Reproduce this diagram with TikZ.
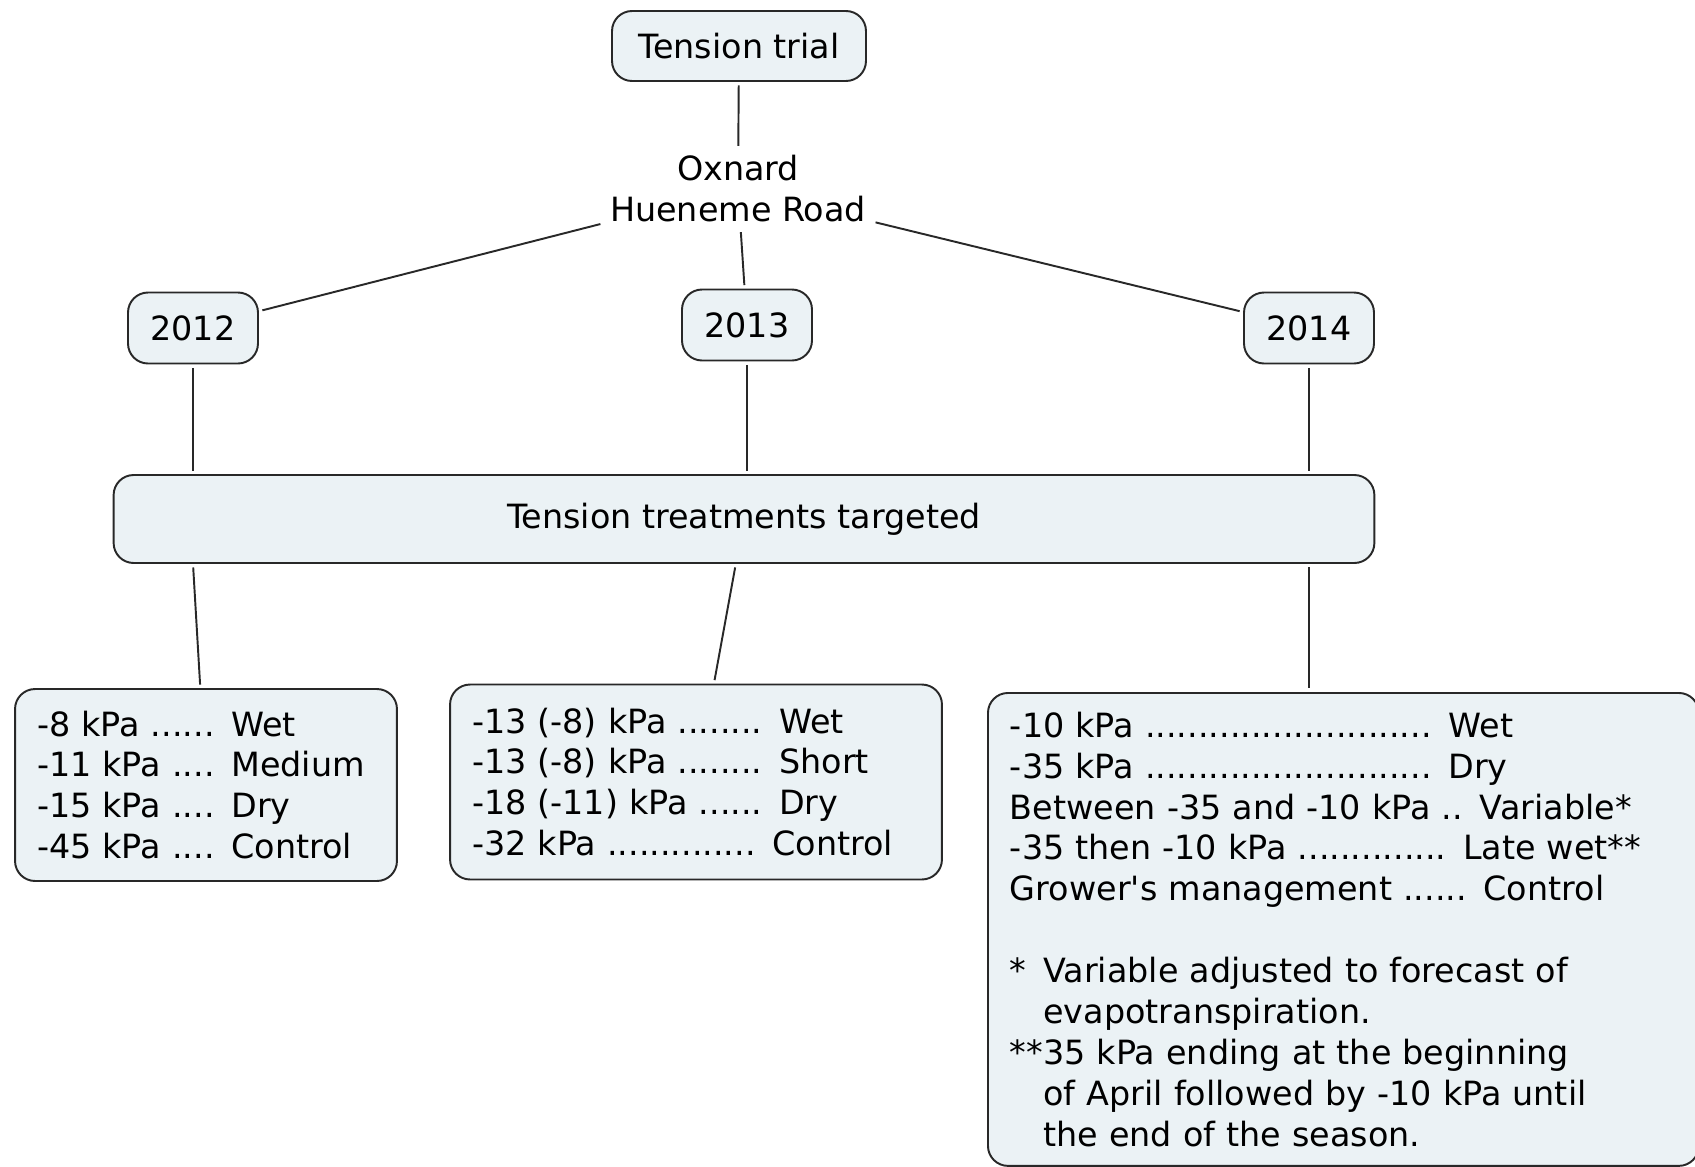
\documentclass[tikz,border=0pt]{standalone}
\usepackage{fontspec}
\setmainfont{DejaVu Sans}[Ligatures=TeXOff]
\usepackage{tikz}

\definecolor{boxfill}{RGB}{235,242,245}
\definecolor{boxline}{RGB}{40,40,40}

\begin{document}
\begin{tikzpicture}[x=0.02cm, y=-0.02cm, font=\fontsize{19}{23.3}\selectfont,
    concept/.style={rectangle, draw=boxline, line width=1.1pt, fill=boxfill, rounded corners=0.4cm},
    link/.style={line width=1.1pt, draw=boxline, shorten <=2pt, shorten >=2pt}]
    \useasboundingbox (0,0) rectangle (1695,1167);

    \node (trial) [concept, minimum width=5.08cm, minimum height=1.4cm] at (739,46) {Tension trial};
    \node (oxnard) [align=center] at (738,189) {Oxnard\\Hueneme Road};
    \node (y2012) [concept, minimum width=2.6cm, minimum height=1.42cm] at (193,328) {2012};
    \node (y2013) [concept, minimum width=2.6cm, minimum height=1.42cm] at (747,325) {2013};
    \node (y2014) [concept, minimum width=2.6cm, minimum height=1.42cm] at (1309,328) {2014};
    \node (treat) [concept, minimum width=25.22cm, minimum height=1.76cm] at (744,519) {Tension treatments targeted};

    \node (box1) [concept, align=left, text width=6.76cm, inner xsep=0.44cm, minimum height=3.84cm] at (206,785)
        {-8 kPa ...... Wet\\
         -11 kPa .... Medium\\
         -15 kPa .... Dry\\
         -45 kPa .... Control};
    \node (box2) [concept, align=left, text width=8.96cm, inner xsep=0.44cm, minimum height=3.9cm] at (696,782)
        {-13 (-8) kPa ........ Wet\\
         -13 (-8) kPa ........ Short\\
         -18 (-11) kPa ...... Dry\\
         -32 kPa .............. Control};
    \node (box3) [concept, align=left, anchor=north west, text width=13.34cm, inner xsep=0.44cm, minimum height=9.46cm] at (987,692)
        {-10 kPa ........................... Wet\\
         -35 kPa ........................... Dry\\
         Between -35 and -10 kPa .. Variable*\\
         -35 then -10 kPa .............. Late wet**\\
         Grower's management ...... Control\\
         ~\\
         \leavevmode\rlap{*}\phantom{**}Variable adjusted to forecast of\\
         \phantom{**}evapotranspiration.\\
         \relax**35 kPa ending at the beginning\\
         \phantom{**}of April followed by -10 kPa until\\
         \phantom{**}the end of the season.};

    \draw[link] (trial) -- (oxnard);
    \draw[link] (oxnard) -- (y2012);
    \draw[link] (oxnard) -- (y2013);
    \draw[link] (oxnard) -- (y2014);
    \draw[link] (y2012) -- (y2012 |- treat.north);
    \draw[link] (y2013) -- (y2013 |- treat.north);
    \draw[link] (y2014) -- (y2014 |- treat.north);
    \draw[link] (treat.south -| y2012) -- (box1);
    \draw[link] (treat) -- (box2);
    \draw[link] (treat.south -| y2014) -- (box3.north -| y2014);
\end{tikzpicture}
\end{document}
